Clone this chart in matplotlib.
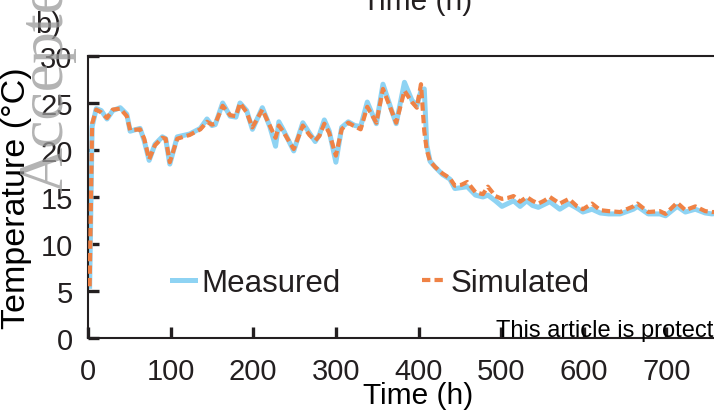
import matplotlib.pyplot as plt

# Data
time_h = [2, 5, 10, 16, 23, 30, 39, 47, 51, 63, 68, 74, 81, 90, 94, 99, 108, 123, 136, 144,
          150, 154, 163, 172, 179, 184, 192, 199, 211, 220, 227, 231, 236, 249, 260, 268, 275, 280, 286, 292,
          300, 307, 315, 323, 330, 338, 349, 357, 369, 373, 383, 392, 398, 403, 407, 410, 414, 420, 429, 438,
          444, 452, 459, 469, 478, 484, 493, 501, 508, 515, 523, 531, 538, 545, 552, 559, 571, 582, 592, 599,
          610, 620, 630, 644, 660, 665, 678, 692, 699, 713, 723, 735, 747, 755, 765]
measured = [5.5, 22.5, 24.4, 24.2, 23.3, 24.2, 24.5, 23.8, 22.0, 22.3, 21.0, 18.9, 20.6, 21.4, 21.2, 18.5, 21.4, 21.7, 22.3, 23.3,
            22.6, 22.7, 25.0, 23.6, 23.5, 25.0, 24.2, 22.2, 24.5, 22.5, 20.4, 23.0, 22.2, 19.9, 22.9, 21.8, 20.9, 21.6, 23.2, 22.0,
            18.7, 22.4, 23.0, 22.6, 22.5, 25.1, 22.8, 27.0, 23.8, 22.8, 27.2, 25.3, 24.7, 26.3, 26.5, 20.5, 18.8, 18.2, 17.4, 16.9,
            15.9, 16.0, 16.1, 15.2, 15.0, 15.2, 14.6, 14.0, 14.3, 14.6, 14.0, 14.6, 14.1, 13.9, 14.2, 14.5, 13.7, 14.3, 13.8, 13.4,
            13.7, 13.3, 13.2, 13.2, 13.7, 14.0, 13.2, 13.2, 13.0, 14.0, 13.4, 13.7, 13.3, 13.2, 13.3]
simulated = [5.5, 22.8, 24.3, 24.0, 23.4, 24.3, 24.4, 23.6, 22.1, 22.2, 21.2, 19.0, 20.5, 21.3, 21.2, 18.7, 21.2, 21.6, 22.2, 23.0,
             22.7, 22.8, 24.7, 23.7, 23.6, 25.0, 24.0, 22.4, 24.3, 22.6, 21.3, 22.6, 22.0, 20.1, 22.6, 21.6, 21.0, 21.5, 22.8, 21.8,
             19.4, 22.2, 22.9, 22.5, 22.2, 24.6, 22.9, 26.5, 23.8, 22.9, 26.3, 25.1, 24.5, 27.0, 22.0, 20.0, 18.8, 18.2, 17.5, 17.0,
             16.2, 16.3, 16.6, 15.5, 15.3, 16.1, 15.1, 14.8, 14.9, 15.1, 14.5, 15.0, 14.6, 14.3, 14.6, 15.0, 14.3, 14.8, 14.0, 13.7,
             14.3, 13.6, 13.5, 13.4, 14.0, 14.3, 13.4, 13.5, 13.2, 14.4, 13.6, 14.0, 13.5, 13.4, 13.4]
x_ticks = [0, 100, 200, 300, 400, 500, 600, 700]
y_ticks = [0, 5, 10, 15, 20, 25, 30]

ink = '#231F20'
plt.rcParams['font.family'] = ['Liberation Sans', 'DejaVu Sans']
plt.rcParams['text.color'] = ink

W, H = 714, 414
fig = plt.figure(figsize=(W / 100, H / 100), dpi=100)
# axes run past the right edge of the picture (the reference is cropped)
ax = fig.add_axes([88 / W, 1 - 339 / H, (749 - 88) / W, (339 - 57) / H])

ax.plot(time_h, measured, color='#8ED3F3', lw=3.6, label='Measured', zorder=2)
ax.plot(time_h, simulated, color='#EF8245', lw=3.0, dashes=(2.0, 1.0),
        label='Simulated', zorder=3)

ax.set_xlim(0, 800)
ax.set_ylim(0, 30)
ax.set_xticks(x_ticks)
ax.set_yticks(y_ticks)
ax.tick_params(direction='in', length=8, width=2.4, colors=ink, labelsize=21)
ax.tick_params(axis='x', pad=13.5)
ax.tick_params(axis='y', pad=11)
for side in ['left', 'bottom', 'top']:
    ax.spines[side].set_linewidth(1.5)
    ax.spines[side].set_color(ink)
ax.spines['right'].set_visible(False)

ax.set_xlabel('Time (h)', fontsize=21.5)
ax.set_ylabel('Temperature (°C)', fontsize=24.5)
ax.xaxis.set_label_coords(0.5, -0.152)
ax.yaxis.set_label_coords(-0.084, 0.5)

ax.legend(ncol=2, frameon=False, fontsize=22.5, handlelength=0.75,
          handletextpad=0.18, columnspacing=2.6, borderpad=0, borderaxespad=0,
          loc='center left', bbox_to_anchor=(172 / W, 1 - 284 / H),
          bbox_transform=fig.transFigure)

# bits of the surrounding page that show in the crop
fig.text(417 / W, 1 - 10 / H, 'Time (h)', ha='center', va='baseline', fontsize=21.5)
fig.text(35 / W, 1 - 33 / H, 'b)', ha='left', va='baseline', fontsize=21)
fig.text(496 / W, 1 - 337 / H, 'This article is protected by copyright. All rights reserved.',
         ha='left', va='baseline', fontsize=17, color='black')
fig.text(62 / W, 1 - 193 / H, 'Accepted', rotation=90, rotation_mode='anchor',
         ha='left', va='baseline', fontsize=46, family='Liberation Serif',
         color='#9A9A9A', alpha=0.75)

plt.savefig('out.png', dpi=100)
